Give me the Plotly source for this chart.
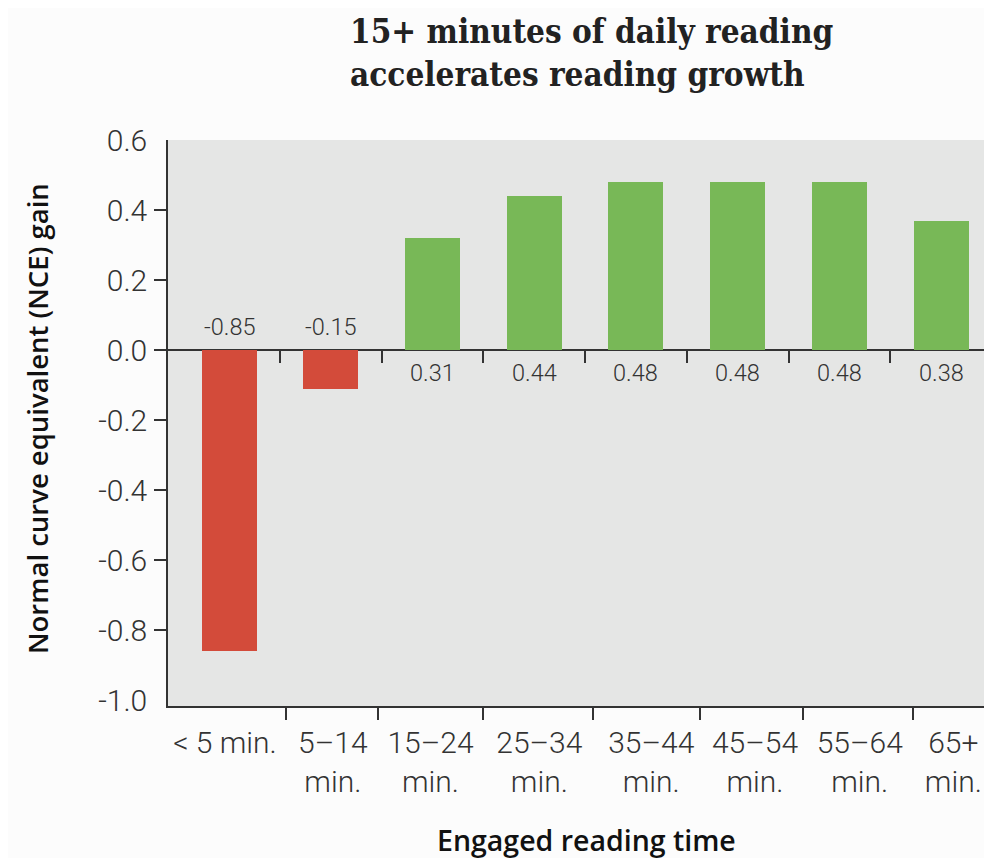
import plotly.graph_objects as go

# ---- data ----
categories = ["< 5 min.", "5\u201314<br>min.", "15\u201324<br>min.", "25\u201334<br>min.",
              "35\u201344<br>min.", "45\u201354<br>min.", "55\u201364<br>min.", "65+<br>min."]
bar_values = [-0.86, -0.11, 0.32, 0.44, 0.48, 0.48, 0.48, 0.37]
value_labels = ["-0.85", "-0.15", "0.31", "0.44", "0.48", "0.48", "0.48", "0.38"]
y_ticks = [-1.0, -0.8, -0.6, -0.4, -0.2, 0.0, 0.2, 0.4, 0.6]
y_tick_labels = ["-1.0", "-0.8", "-0.6", "-0.4", "-0.2", "0.0", "0.2", "0.4", "0.6"]

# ---- layout constants (category units) ----
label_pos = [-0.04, 1.02, 1.98, 3.05, 4.15, 5.17, 6.20, 7.12]
divider_pos = [0.56, 1.465, 2.50, 3.58, 4.63, 5.64, 6.72]
X_RANGE = [-0.6, 7.5]
Y_RANGE = [-1.017, 0.6]

RED = "#d34b3a"
GREEN = "#78b857"
DARK = "#333333"
TICK_FONT = dict(family="Roboto", size=30, color=DARK, weight=300)

xs = list(range(len(categories)))
colors = [RED if v < 0 else GREEN for v in bar_values]

fig = go.Figure()
fig.add_trace(go.Bar(x=xs, y=bar_values, marker=dict(color=colors, line=dict(width=0)),
                     width=0.54, hoverinfo="skip", showlegend=False))
# helper traces so overlay axes are created
for ax in ["x2", "x3", "x4"]:
    fig.add_trace(go.Scatter(x=[None], y=[None], xaxis=ax, yaxis="y", showlegend=False, hoverinfo="skip"))
fig.add_trace(go.Scatter(x=[None], y=[None], xaxis="x", yaxis="y2", showlegend=False, hoverinfo="skip"))

zero_frac = (0 - Y_RANGE[0]) / (Y_RANGE[1] - Y_RANGE[0])

value_annotations = [
    dict(x=x, y=0, xref="x", yref="y", text=t, showarrow=False, xanchor="center", yanchor="middle",
         yshift=23 if v < 0 else -23,
         font=dict(family="Roboto", size=23.5, color=DARK, weight=300))
    for x, v, t in zip(xs, bar_values, value_labels)
]

fig.update_layout(
    width=984, height=850,
    margin=dict(l=160, r=0, t=132, b=152),
    paper_bgcolor="#fcfcfc", plot_bgcolor="#e5e6e5",
    bargap=0,
    xaxis=dict(range=X_RANGE, showticklabels=False, ticks="", showgrid=False, zeroline=False,
               showline=True, linecolor=DARK, linewidth=1.5, fixedrange=True),
    xaxis2=dict(overlaying="x", anchor="y", range=X_RANGE, tickmode="array", tickvals=label_pos,
                ticktext=categories, ticks="", showgrid=False, zeroline=False, showline=False,
                tickfont=TICK_FONT, ticklabelstandoff=16),
    xaxis3=dict(overlaying="x", anchor="y", range=X_RANGE, tickmode="array", tickvals=divider_pos,
                showticklabels=False, ticks="outside", ticklen=13, tickwidth=1.5, tickcolor=DARK,
                showgrid=False, zeroline=False, showline=False),
    xaxis4=dict(overlaying="x", anchor="free", position=zero_frac, range=X_RANGE, tickmode="array",
                tickvals=[i + 0.5 for i in xs[:-1]], showticklabels=False, ticks="outside",
                ticklen=12, tickwidth=1.5, tickcolor=DARK, showgrid=False, zeroline=False, showline=False),
    yaxis=dict(range=Y_RANGE, tickmode="array", tickvals=y_ticks, ticktext=y_tick_labels,
               ticks="", showgrid=False, zeroline=True, zerolinecolor=DARK, zerolinewidth=2,
               showline=True, linecolor=DARK, linewidth=1.5, tickfont=TICK_FONT, ticklabelstandoff=13),
    yaxis2=dict(overlaying="y", anchor="x", range=Y_RANGE, tickmode="array", tickvals=y_ticks[1:-1],
                showticklabels=False, ticks="outside", ticklen=13, tickwidth=1.5, tickcolor=DARK,
                showgrid=False, zeroline=False, showline=False),
    annotations=value_annotations + [
        dict(text="15+ minutes of daily reading<br>accelerates reading growth", xref="paper", yref="paper",
             x=(348 - 168) / 824, y=1 + (140 - 10) / 566, xanchor="left", yanchor="top", align="left",
             showarrow=False, font=dict(family="DejaVu Serif Condensed, DejaVu Serif", size=33,
                                        color="#222222", weight=700)),
        dict(text="Normal curve equivalent (NCE) gain", xref="paper", yref="paper",
             x=(37 - 168) / 824, y=(706 - 419) / 566, xanchor="center", yanchor="middle",
             textangle=-90, showarrow=False,
             font=dict(family="Open Sans", size=27.5, color="#111111", weight=600)),
        dict(text="Engaged reading time", xref="paper", yref="paper",
             x=(586 - 168) / 824, y=(706 - 840) / 566, xanchor="center", yanchor="middle",
             showarrow=False, font=dict(family="Open Sans", size=28.5, color="#111111", weight=600)),
    ],
)

fig.write_html("out.html")
